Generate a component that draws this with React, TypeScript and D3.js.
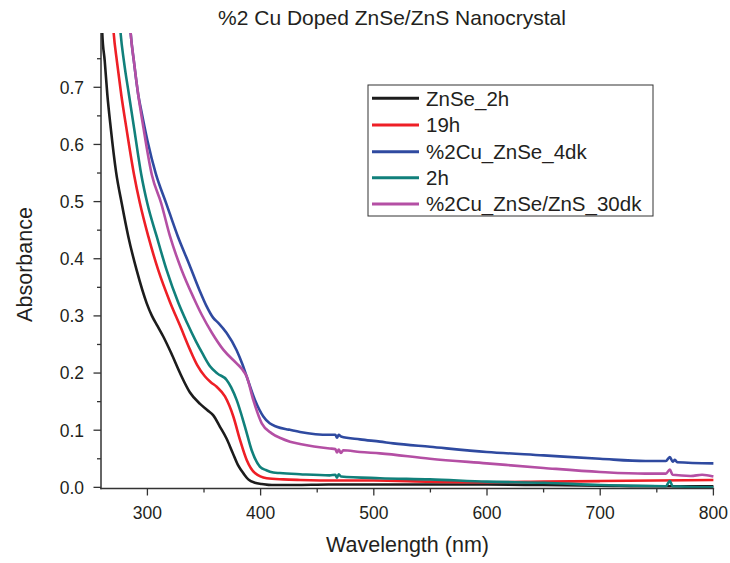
import React from "react";
import * as d3 from "d3";

type Pt = [number, number];

const titleText = "%2 Cu Doped ZnSe/ZnS Nanocrystal";
const xLabel = "Wavelength (nm)";
const yLabel = "Absorbance";
const xTicks = [300, 400, 500, 600, 700, 800];
const yTicks = [0.0, 0.1, 0.2, 0.3, 0.4, 0.5, 0.6, 0.7];
const seriesNames = ["ZnSe_2h", "19h", "%2Cu_ZnSe_4dk", "2h", "%2Cu_ZnSe/ZnS_30dk"];
const seriesColors = ["#1c1c1c", "#ee1f26", "#2f4aa0", "#11807b", "#b44fa4"];

const znse2h: Pt[] = [
  [259, 0.86], [260.1, 0.795], [262.3, 0.746], [264.6, 0.687], [267.6, 0.629], [272.3, 0.552],
  [277.3, 0.497], [283.1, 0.439], [290.5, 0.38], [299.4, 0.322], [304, 0.3], [309, 0.282],
  [314, 0.264], [321, 0.235], [328.8, 0.2], [337.6, 0.166], [346.5, 0.146], [353, 0.135],
  [358.2, 0.126], [364.1, 0.106], [370, 0.085], [375, 0.062], [380.3, 0.038], [385, 0.024],
  [389.1, 0.014], [395, 0.008], [401, 0.006], [410, 0.004], [430, 0.004], [460, 0.005],
  [500, 0.005], [550, 0.005], [600, 0.005], [650, 0.004], [700, 0.003], [750, 0.002], [800, 0.002],
];

const h19: Pt[] = [
  [269, 0.83], [270.2, 0.795], [273.1, 0.745], [276.9, 0.687], [281.4, 0.629], [288.2, 0.547],
  [293.4, 0.497], [300.8, 0.439], [309.6, 0.38], [320, 0.324], [328.8, 0.283], [337.6, 0.241],
  [344, 0.214], [350.9, 0.194], [356, 0.184], [361.2, 0.176], [368.5, 0.159], [375.9, 0.124],
  [381.8, 0.083], [387.7, 0.048], [395, 0.025], [405.4, 0.016], [420, 0.014], [435, 0.013],
  [470, 0.012], [500, 0.012], [550, 0.01], [600, 0.009], [650, 0.01], [700, 0.011], [750, 0.012],
  [800, 0.013],
];

const cuZnSe4dk: Pt[] = [
  [284, 0.83], [285.2, 0.795], [288.1, 0.745], [291.9, 0.687], [295, 0.655], [300, 0.607],
  [307.4, 0.549], [316.6, 0.497], [326.9, 0.439], [337, 0.39], [346, 0.345], [352, 0.318],
  [358, 0.297], [363, 0.287], [370, 0.27], [378.8, 0.24], [384, 0.215], [387.7, 0.194],
  [395, 0.153], [402.4, 0.124], [408, 0.112], [414.2, 0.106], [425, 0.101], [434.8, 0.097],
  [461, 0.092], [466, 0.092], [467.5, 0.087], [469, 0.092], [471, 0.089], [487.8, 0.084],
  [505.5, 0.08], [517.2, 0.077], [549.6, 0.071], [599.7, 0.062], [650, 0.056], [699.8, 0.05],
  [740, 0.046], [758, 0.046], [761.5, 0.053], [764, 0.045], [766, 0.048], [768, 0.044], [800, 0.042],
];

const h2: Pt[] = [
  [275, 0.83], [276.3, 0.795], [279.3, 0.745], [283.7, 0.687], [288.2, 0.629], [294.6, 0.547],
  [299.9, 0.497], [308.2, 0.439], [317, 0.38], [327.3, 0.323], [335, 0.288], [343, 0.255],
  [349, 0.233], [355.3, 0.212], [362, 0.199], [370, 0.188], [374, 0.175], [378.8, 0.153],
  [386.2, 0.106], [392.1, 0.065], [399.5, 0.036], [405, 0.03], [411.2, 0.026], [417, 0.025],
  [434.8, 0.023], [461, 0.021], [466, 0.022], [467.5, 0.017], [469, 0.023], [471, 0.019],
  [505.5, 0.016], [549.6, 0.014], [600, 0.01], [650, 0.008], [700, 0.004], [758, 0.002],
  [761.5, 0.011], [764, 0.002], [800, 0.0],
];

const cuZnSeZnS30dk: Pt[] = [
  [284, 0.83], [285.2, 0.795], [288.1, 0.745], [291.9, 0.687], [296.5, 0.629], [303.9, 0.547],
  [312.2, 0.497], [320, 0.439], [330.3, 0.38], [341, 0.331], [348, 0.302], [356.8, 0.271],
  [367, 0.241], [378.8, 0.217], [383.5, 0.207], [387.7, 0.194], [393.5, 0.153], [401, 0.112],
  [409.8, 0.0945], [418, 0.086], [426, 0.08], [434.8, 0.076], [461, 0.068], [466, 0.067],
  [467.5, 0.061], [469, 0.066], [471, 0.06], [473, 0.065], [487.8, 0.062], [505.5, 0.0595],
  [549.6, 0.05], [599.7, 0.042], [650, 0.034], [699.8, 0.027], [740, 0.024], [758, 0.024],
  [761.5, 0.031], [764, 0.022], [780, 0.02], [790, 0.022], [800, 0.019],
];

const allSeries = [znse2h, h19, cuZnSe4dk, h2, cuZnSeZnS30dk];

const FONT = "'Liberation Sans', Arial, sans-serif";
const TXT = "#231f20";

export default function App() {
  const W = 730, H = 563;
  const left = 101, right = 713.4, top = 33, bottom = 488.5;
  const x = d3.scaleLinear().domain([259, 800]).range([left, right]);
  const y = d3.scaleLinear().domain([-0.002, 0.795]).range([bottom, top]);
  const line = d3
    .line<Pt>()
    .x((d) => x(d[0]))
    .y((d) => y(d[1]))
    .curve(d3.curveMonotoneX);

  const xMinor = d3.range(300, 801, 50).filter((v) => v % 100 !== 0);
  const yMinor = d3.range(0.05, 0.8, 0.1);

  const legX = 368, legY = 85, legW = 285, legH = 131;
  const rowY = [98.3, 125, 151.7, 177.7, 204];

  return (
    <svg width={W} height={H} style={{ position: "absolute", left: 0, top: 0, background: "#fff" }}>
      <defs>
        <clipPath id="plotClip">
          <rect x={left} y={top} width={right - left + 2} height={bottom - top} />
        </clipPath>
      </defs>
      <text x={392} y={25} textAnchor="middle" fontFamily={FONT} fontSize={21} fill={TXT}>
        {titleText}
      </text>

      <g clipPath="url(#plotClip)">
        {allSeries.map((s, i) => (
          <path key={i} d={line(s) || ""} fill="none" stroke={seriesColors[i]} strokeWidth={2.6} strokeLinejoin="round" />
        ))}
      </g>

      <line x1={left} x2={left} y1={top} y2={bottom + 0.75} stroke="#333" strokeWidth={1.5} />
      <line x1={left - 0.75} x2={right + 0.75} y1={bottom} y2={bottom} stroke="#333" strokeWidth={1.5} />

      {xTicks.map((t) => (
        <g key={"xt" + t}>
          <line x1={x(t)} x2={x(t)} y1={bottom} y2={bottom + 7} stroke="#333" strokeWidth={1.3} />
          <text x={x(t)} y={518.5} textAnchor="middle" fontFamily={FONT} fontSize={17.5} fill={TXT}>
            {t}
          </text>
        </g>
      ))}
      {xMinor.map((t) => (
        <line key={"xm" + t} x1={x(t)} x2={x(t)} y1={bottom} y2={bottom + 4} stroke="#333" strokeWidth={1.3} />
      ))}
      {yTicks.map((t) => (
        <g key={"yt" + t}>
          <line x1={left - 7.5} x2={left} y1={y(t)} y2={y(t)} stroke="#333" strokeWidth={1.3} />
          <text x={84} y={y(t) + 6.3} textAnchor="end" fontFamily={FONT} fontSize={17.5} fill={TXT}>
            {t.toFixed(1)}
          </text>
        </g>
      ))}
      {yMinor.map((t) => (
        <line key={"ym" + t} x1={left - 4} x2={left} y1={y(t)} y2={y(t)} stroke="#333" strokeWidth={1.3} />
      ))}

      <text x={407.5} y={552} textAnchor="middle" fontFamily={FONT} fontSize={21.5} fill={TXT}>
        {xLabel}
      </text>
      <text
        transform={`translate(32,264.5) rotate(-90)`}
        textAnchor="middle"
        fontFamily={FONT}
        fontSize={21.5}
        fill={TXT}
      >
        {yLabel}
      </text>

      <rect x={legX} y={legY} width={legW} height={legH} fill="#fff" stroke="#333" strokeWidth={1} />
      {seriesNames.map((n, i) => (
        <g key={n}>
          <line x1={372} x2={419} y1={rowY[i]} y2={rowY[i]} stroke={seriesColors[i]} strokeWidth={3} />
          <text x={426} y={rowY[i] + 7.3} fontFamily={FONT} fontSize={20.5} fill={TXT}>
            {n}
          </text>
        </g>
      ))}
    </svg>
  );
}
